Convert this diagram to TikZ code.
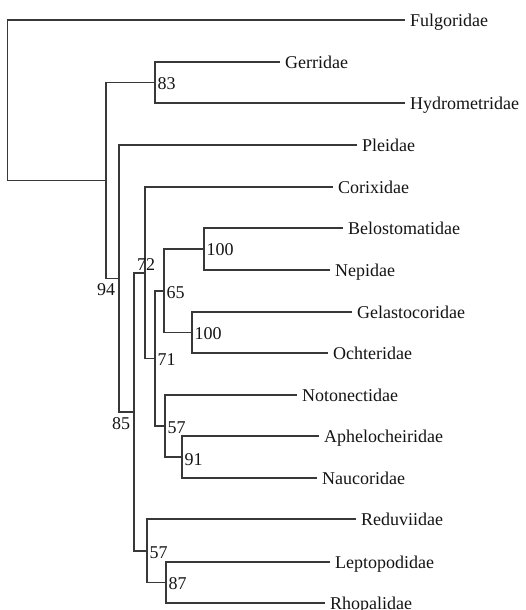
\documentclass[tikz,border=0pt]{standalone}
\usepackage{fontspec}
\setmainfont{Liberation Serif}
\begin{document}
\begin{tikzpicture}[x=1pt,y=-1pt,
  branch/.style={draw=black!78,line width=1.1pt},
  tip/.style={anchor=west,inner xsep=5pt,inner ysep=0pt,text height=12.2pt,text depth=0pt,font=\fontsize{18}{20}\selectfont,text=black!92},
  sup/.style={inner sep=0.5pt,text height=12.2pt,text depth=0pt,font=\fontsize{18}{20}\selectfont,text=black!92}]
\useasboundingbox (0,0) rectangle (525,610);
% tips
\node[tip] (t1) at (405,20) {Fulgoridae};
\node[tip] (t2) at (280,62) {Gerridae};
\node[tip] (t3) at (405,103) {Hydrometridae};
\node[tip] (t4) at (357,145) {Pleidae};
\node[tip] (t5) at (333,187) {Corixidae};
\node[tip] (t6) at (343,228) {Belostomatidae};
\node[tip] (t7) at (330,270) {Nepidae};
\node[tip] (t8) at (352,312) {Gelastocoridae};
\node[tip] (t9) at (328,353) {Ochteridae};
\node[tip] (t10) at (297,395) {Notonectidae};
\node[tip] (t11) at (319,436) {Aphelocheiridae};
\node[tip] (t12) at (317,478) {Naucoridae};
\node[tip] (t13) at (356,519) {Reduviidae};
\node[tip] (t14) at (330,562) {Leptopodidae};
\node[tip] (t15) at (325,603) {Rhopalidae};
% internal nodes
\coordinate (n83) at (155,82.5);
\coordinate (nbn) at (204,249);
\coordinate (ngo) at (192,332.5);
\coordinate (n65) at (164,291);
\coordinate (n91) at (182,457);
\coordinate (n57a) at (165,426);
\coordinate (n71) at (155,358.5);
\coordinate (n72) at (145,273);
\coordinate (n87) at (166,582.5);
\coordinate (n57b) at (147,551);
\coordinate (nb) at (134,412);
\coordinate (n85) at (119,278.5);
\coordinate (n94) at (106,180.5);
\coordinate (root) at (7.5,100);
% branches
\draw[branch] (t2.west) -| (n83) |- (t3.west);
\draw[branch] (t6.west) -| (nbn) |- (t7.west);
\draw[branch] (t8.west) -| (ngo) |- (t9.west);
\draw[branch] (nbn) -| (n65) |- (ngo);
\draw[branch] (t11.west) -| (n91) |- (t12.west);
\draw[branch] (t10.west) -| (n57a) |- (n91);
\draw[branch] (n65) -| (n71) |- (n57a);
\draw[branch] (t5.west) -| (n72) |- (n71);
\draw[branch] (t14.west) -| (n87) |- (t15.west);
\draw[branch] (t13.west) -| (n57b) |- (n87);
\draw[branch] (n72) -| (nb) |- (n57b);
\draw[branch] (t4.west) -| (n85) |- (nb);
\draw[branch] (n83) -| (n94) |- (n85);
\draw[branch] (t1.west) -| (root) |- (n94);
% support values
\node[sup,anchor=west] (s83) at (157,83) {83};
\node[sup,anchor=west] (s100a) at (206,249) {100};
\node[sup,anchor=west] (s100b) at (194,333) {100};
\node[sup,anchor=west] (s65) at (166,292) {65};
\node[sup,anchor=west] (s71) at (157,359) {71};
\node[sup] (s72) at (146,264) {72};
\node[sup] (s94) at (106,289) {94};
\node[sup] (s85) at (121,423) {85};
\node[sup,anchor=west] (s57a) at (167,427) {57};
\node[sup,anchor=west] (s91) at (184,459) {91};
\node[sup,anchor=west] (s57b) at (149,552) {57};
\node[sup,anchor=west] (s87) at (168,583) {87};
\end{tikzpicture}
\end{document}
